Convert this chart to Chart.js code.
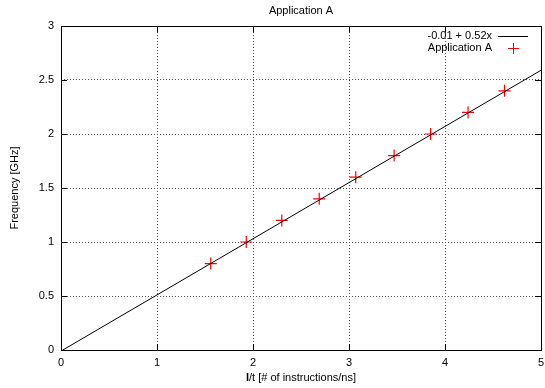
<!DOCTYPE html>
<html>
<head>
<meta charset="utf-8">
<script src="https://cdn.jsdelivr.net/npm/chart.js@4/dist/chart.umd.min.js"></script>
<style>
  html, body { margin: 0; padding: 0; background: #fff; }
  #wrap { width: 545px; height: 388px; }
</style>
</head>
<body>
<div id="wrap"><canvas id="freqChart" width="545" height="388"></canvas></div>
<script>
// Measured points (I/t vs frequency)
const appX = [1.56, 1.93, 2.30, 2.69, 3.07, 3.47, 3.85, 4.24, 4.62];
const appY = [0.8, 1.0, 1.2, 1.4, 1.6, 1.8, 2.0, 2.2, 2.4];

// Fit line endpoints: -0.01 + 0.52x
const fitX = [0, 5];
const fitY = [-0.01, 2.59];

const xTicks = [0, 1, 2, 3, 4, 5];
const yTicks = [0, 0.5, 1, 1.5, 2, 2.5, 3];

const chartTitle = 'Application A';
const fitLabel = '-0.01 + 0.52x';
const pointsLabel = 'Application A';
const xTitleBold = 'I';
const xTitleRest = '/t [# of instructions/ns]';

const FONT = 'Liberation Sans, Arial, sans-serif';

// Draw frame, inward ticks, title, x label and legend like gnuplot
const gnuplotDecor = {
    id: 'gnuplotDecor',
    afterDraw(chart) {
        const ctx = chart.ctx;
        const a = chart.chartArea;
        const xs = chart.scales.x;
        const ys = chart.scales.y;
        ctx.save();
        ctx.strokeStyle = '#000';
        ctx.lineWidth = 1;
        ctx.strokeRect(Math.round(a.left) + 0.5, Math.round(a.top) + 0.5,
            Math.round(a.right - a.left), Math.round(a.bottom - a.top));
        ctx.beginPath();
        xTicks.forEach(v => {
            const px = Math.round(xs.getPixelForValue(v)) + 0.5;
            ctx.moveTo(px, a.bottom); ctx.lineTo(px, a.bottom - 6);
            ctx.moveTo(px, a.top); ctx.lineTo(px, a.top + 6);
        });
        yTicks.forEach(v => {
            const py = Math.round(ys.getPixelForValue(v)) + 0.5;
            ctx.moveTo(a.left, py); ctx.lineTo(a.left + 6, py);
            ctx.moveTo(a.right, py); ctx.lineTo(a.right - 6, py);
        });
        ctx.stroke();

        // title
        ctx.fillStyle = '#000';
        ctx.font = '11px ' + FONT;
        ctx.textAlign = 'center';
        ctx.textBaseline = 'middle';
        ctx.fillText(chartTitle, (a.left + a.right) / 2, 11);

        // x axis label, with bold I
        ctx.textAlign = 'left';
        ctx.font = 'bold 11px ' + FONT;
        const w1 = ctx.measureText(xTitleBold).width;
        ctx.font = '11px ' + FONT;
        const w2 = ctx.measureText(xTitleRest).width;
        const x0 = (a.left + a.right) / 2 - (w1 + w2) / 2;
        ctx.font = 'bold 11px ' + FONT;
        ctx.fillText(xTitleBold, x0, 378);
        ctx.font = '11px ' + FONT;
        ctx.fillText(xTitleRest, x0 + w1, 378);

        // legend
        ctx.textAlign = 'right';
        ctx.fillText(fitLabel, 492, 36);
        ctx.fillText(pointsLabel, 492, 48);
        ctx.fillRect(498, 36, 30, 1);
        ctx.fillStyle = '#ff0000';
        ctx.fillRect(508, 48, 11, 1);
        ctx.fillRect(513, 43, 1, 11);
        ctx.restore();
    }
};

const fmt = v => String(v);

const ctx = document.getElementById('freqChart');
new Chart(ctx, {
    type: 'scatter',
    data: {
        datasets: [
            {
                type: 'line',
                label: fitLabel,
                data: fitX.map((x, i) => ({ x: x, y: fitY[i] })),
                borderColor: '#000',
                borderWidth: 1,
                pointRadius: 0,
                fill: false
            },
            {
                label: pointsLabel,
                data: appX.map((x, i) => ({ x: x, y: appY[i] })),
                pointStyle: 'cross',
                pointRadius: 6,
                borderColor: '#ff0000',
                backgroundColor: '#ff0000',
                borderWidth: 1.2
            }
        ]
    },
    options: {
        responsive: false,
        animation: false,
        layout: { autoPadding: false, padding: { top: 26, right: 4, left: 8, bottom: 0 } },
        scales: {
            x: {
                type: 'linear',
                min: 0,
                max: 5,
                afterBuildTicks: s => { s.ticks = xTicks.map(v => ({ value: v })); },
                afterFit: s => { s.height = 38; s.paddingLeft = 0; s.paddingRight = 0; },
                grid: {
                    color: '#555',
                    drawTicks: false
                },
                border: { display: false, dash: [1, 2] },
                ticks: { color: '#000', font: { family: FONT, size: 11 }, padding: 6, maxRotation: 0, callback: fmt },
                title: { display: false }
            },
            y: {
                type: 'linear',
                min: 0,
                max: 3,
                afterBuildTicks: s => { s.ticks = yTicks.map(v => ({ value: v })); },
                afterFit: s => { s.width = 53; s.paddingTop = 0; s.paddingBottom = 0; },
                grid: {
                    color: '#555',
                    drawTicks: false
                },
                border: { display: false, dash: [1, 2] },
                ticks: { color: '#000', font: { family: FONT, size: 11 }, padding: 7, callback: fmt },
                title: {
                    display: true,
                    text: 'Frequency [GHz]',
                    color: '#000',
                    font: { family: FONT, size: 11 },
                    padding: { top: 0, bottom: 0 }
                }
            }
        },
        plugins: {
            legend: { display: false },
            title: { display: false },
            tooltip: { enabled: false }
        }
    },
    plugins: [gnuplotDecor]
});
</script>
</body>
</html>
